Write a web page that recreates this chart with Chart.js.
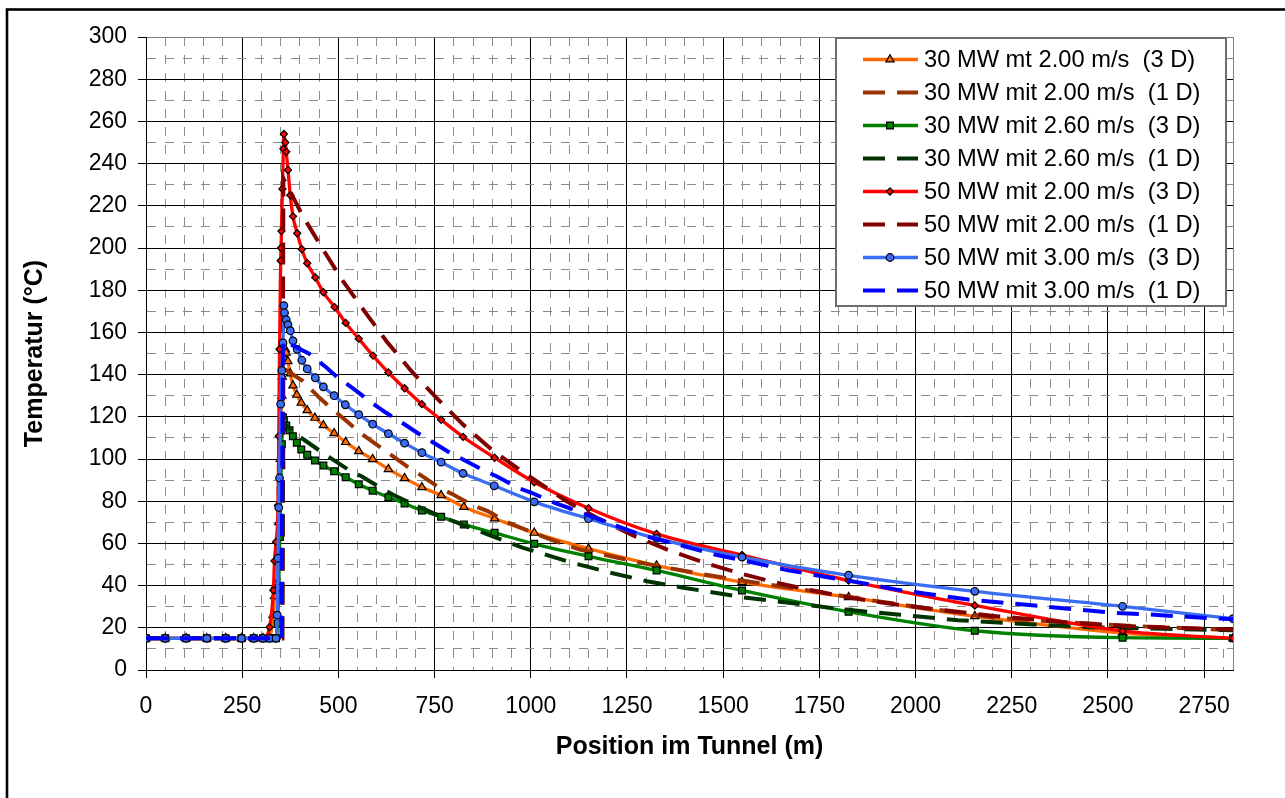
<!DOCTYPE html>
<html>
<head>
<meta charset="utf-8">
<script src="https://cdn.jsdelivr.net/npm/chart.js@4/dist/chart.umd.min.js"></script>
<style>
  html, body { margin: 0; padding: 0; background: #fff; }
  #wrap { width: 1285px; height: 798px; }
</style>
</head>
<body>
<div id="wrap"><canvas id="tunnel" width="1285" height="798"></canvas></div>
<script>
// Temperatur entlang des Tunnels, 3D-Rechnung gegen 1D-Modell

const seriesLabels = [
  "30 MW mt 2.00 m/s  (3 D)",
  "30 MW mit 2.00 m/s  (1 D)",
  "30 MW mit 2.60 m/s  (3 D)",
  "30 MW mit 2.60 m/s  (1 D)",
  "50 MW mit 2.00 m/s  (3 D)",
  "50 MW mit 2.00 m/s  (1 D)",
  "50 MW mit 3.00 m/s  (3 D)",
  "50 MW mit 3.00 m/s  (1 D)"
];

// 30 MW, 2.00 m/s, 3D
const pos30v200_3d = [0, 50, 104, 158, 207, 248, 280, 304, 321, 330, 334, 337, 343, 345, 349, 353, 354, 358, 362, 364.5, 368.7, 375, 382, 392, 403.5, 419, 439, 461, 489, 519, 553, 589, 630, 672, 717, 767, 826, 906, 1009, 1150, 1327, 1549, 1826, 2154, 2538, 2825];
const temp30v200_3d = [15, 15, 15, 15, 15, 15, 15, 15, 15, 26, 35, 40, 51, 70, 100, 130, 139, 148, 152, 150.3, 146.3, 140.5, 134.8, 130.4, 126.6, 123.1, 119.5, 116, 112.2, 108, 103.7, 99.9, 95.2, 90.9, 86.6, 82.8, 77.3, 71.8, 65, 57.5, 49.5, 41.6, 34.5, 25.5, 17.5, 15];

// 30 MW, 2.00 m/s, 1D
const pos30v200_1d = [0, 354, 357, 408, 451, 477, 525, 551, 600, 630, 681, 713, 763, 798, 848, 888, 940, 976, 1032, 1071, 1127, 1300, 1450, 1600, 1738, 1829, 1924, 2019, 2115, 2210, 2305, 2400, 2550, 2700, 2825];
const temp30v200_1d = [15, 15, 143, 136.9, 129, 124.7, 117.4, 113.2, 106.7, 102.8, 96.2, 92.5, 86.3, 83.2, 78.2, 75.3, 70, 67.3, 63.2, 60.6, 57.1, 50.3, 45.3, 41, 37.3, 34.6, 32, 29.5, 27.1, 24.7, 23.6, 22.5, 21, 19.8, 19];

// 30 MW, 2.60 m/s, 3D
const pos30v260_3d = [0, 50, 104, 158, 207, 248, 280, 304, 321, 338, 342, 345, 346.5, 348, 350, 351.5, 353, 354.5, 355.7, 358.3, 364.5, 373, 381.7, 392, 403.5, 419, 439, 461, 489, 519, 553, 589, 630, 672, 717, 767, 826, 906, 1009, 1150, 1327, 1549, 1826, 2154, 2538, 2825];
const temp30v260_3d = [15, 15, 15, 15, 15, 15, 15, 15, 15, 15, 22, 39, 54, 63, 85, 97, 107, 115, 119.8, 117.9, 115.9, 113.6, 110.8, 107.7, 104.5, 102, 99.3, 96.9, 94.2, 91.4, 88, 85, 81.9, 78.9, 75.6, 72.6, 69, 65, 59.8, 53.9, 47.2, 37.7, 27.6, 18.6, 15.3, 15];

// 30 MW, 2.60 m/s, 1D
const pos30v260_1d = [0, 354, 357, 395, 447, 477, 529, 560, 615, 646, 703, 760, 833, 889, 928, 980, 1114, 1210, 1302, 1396, 1491, 1550, 1700, 1824, 1960, 2110, 2305, 2444, 2600, 2825];
const temp30v260_1d = [15, 15, 117, 111.1, 104.5, 100.8, 94.6, 91.8, 85.8, 82.7, 77.8, 73.3, 68.1, 64.2, 61.5, 57.9, 50.5, 46, 42.1, 39, 36.3, 34.5, 31.2, 28.5, 26.2, 23.6, 21.6, 20.3, 19.7, 18.8];

// 50 MW, 2.00 m/s, 3D
const pos50v200_3d = [0, 50, 104, 158, 207, 248, 280, 304, 321, 331, 334, 338, 343, 345, 347, 350, 351, 352, 354.5, 357, 358.3, 362, 364.5, 369, 375, 382, 393, 405, 419, 440, 461, 490, 519, 553, 590, 630, 672, 717, 767, 824, 906, 1009, 1150, 1327, 1549, 1826, 2154, 2538, 2825];
const temp50v200_3d = [15, 15, 15, 15, 15, 15, 15, 15, 20.3, 37.8, 51.7, 60.7, 78, 110.8, 152, 194, 200, 208, 228, 247, 254, 250, 245.6, 237, 225, 215, 207, 199.4, 192.8, 186, 179, 172, 164.5, 157, 149, 141, 133.5, 126, 118.6, 110.5, 100.6, 89, 76.7, 64.5, 54.5, 42.4, 30.6, 18.5, 15];

// 50 MW, 2.00 m/s, 1D
const pos50v200_1d = [0, 354, 357, 408, 460, 512, 568, 625, 690, 755, 824, 898, 976, 1093, 1179, 1270, 1361, 1457, 1552, 1647, 1743, 1838, 1950, 2050, 2210, 2396, 2583, 2825];
const temp50v200_1d = [15, 15, 233, 215, 199.3, 184.3, 170, 155.8, 141.6, 129, 116.3, 104.5, 94.2, 80, 71.5, 63.4, 56.6, 50.5, 45.4, 41, 37.3, 34, 31, 28.8, 25.5, 22.5, 20.5, 19.2];

// 50 MW, 3.00 m/s, 3D
const pos50v300_3d = [0, 50, 104, 158, 207, 248, 280, 304, 321, 338, 341, 343, 345, 347, 350, 353, 356, 358.3, 360, 364.5, 369, 375, 382, 393, 405, 419, 440, 461, 489, 518, 553, 589, 630, 672, 717, 767, 824, 905, 1009, 1150, 1327, 1549, 1826, 2154, 2538, 2825];
const temp50v300_3d = [15, 15, 15, 15, 15, 15, 15, 15, 15, 15, 26, 53, 77, 91, 126, 142, 155, 172.7, 169.3, 166, 163.7, 160.8, 156, 152, 146.8, 142.7, 138.5, 134.2, 130, 125.7, 121, 116.5, 112, 107.5, 103, 98.5, 93.2, 87.3, 79.7, 71.7, 62.4, 53.5, 44.9, 37.3, 30.2, 24.3];

// 50 MW, 3.00 m/s, 1D
const pos50v300_1d = [0, 352, 356, 423, 468, 496, 545, 573, 623, 657, 707, 737, 791, 824, 878, 911, 967, 1002, 1062, 1097, 1150, 1288, 1383, 1478, 1574, 1669, 1764, 1860, 1951, 2042, 2137, 2232, 2328, 2419, 2514, 2609, 2705, 2825];
const temp50v300_1d = [15, 15, 156, 150, 143.5, 139, 132.5, 128.5, 122, 118.2, 112.2, 108.9, 102.8, 99.8, 94.6, 91.8, 86.3, 84, 79.2, 76.9, 73.3, 63.9, 59.5, 54.7, 51.1, 47.3, 44.2, 41.3, 38.1, 35.8, 33.4, 31.8, 30.2, 28.7, 27.1, 26.3, 25.2, 24];

// Achsen: Haupt- und Hilfslinien
const xTickValues = [];
for (let v = 0; v <= 2800; v += 50) xTickValues.push(v);
const yTickValues = [];
for (let v = 0; v <= 300; v += 10) yTickValues.push(v);

const allPos = [pos30v200_3d, pos30v200_1d, pos30v260_3d, pos30v260_1d, pos50v200_3d, pos50v200_1d, pos50v300_3d, pos50v300_1d];
const allTemp = [temp30v200_3d, temp30v200_1d, temp30v260_3d, temp30v260_1d, temp50v200_3d, temp50v200_1d, temp50v300_3d, temp50v300_1d];

const solid = (color, marker, radius) => ({
  borderColor: color, borderWidth: 3.3, borderDash: [],
  pointStyle: marker, pointRadius: radius, pointBackgroundColor: color,
  pointBorderColor: '#000', pointBorderWidth: 1.2,
  cubicInterpolationMode: 'monotone'
});
const dashed = color => ({
  borderColor: color, borderWidth: 4, borderDash: [22, 12],
  pointRadius: 0, tension: 0
});

const styles = [
  solid('#ff6a00', 'triangle', 4.8),
  dashed('#993300'),
  solid('#008000', 'rect', 4.8),
  dashed('#003300'),
  solid('#ff0000', 'rectRot', 3.6),
  dashed('#800000'),
  solid('#3a6cf4', 'circle', 3.8),
  dashed('#0000ff')
];

const datasets = seriesLabels.map((label, i) => Object.assign({
  label: label,
  data: allPos[i].map((x, k) => ({ x: x, y: allTemp[i][k] })),
  fill: false,
  order: 7 - i
}, styles[i]));

const decor = {
  id: 'decor',
  beforeDraw(chart) {
    const c = chart.ctx;
    c.save();
    c.fillStyle = '#fff';
    c.fillRect(0, 0, chart.width, chart.height);
    c.restore();
  },
  beforeDatasetsDraw(chart) {
    const c = chart.ctx, a = chart.chartArea;
    c.save();
    c.strokeStyle = '#808080';
    c.lineWidth = 1;
    c.beginPath();
    c.moveTo(Math.floor(a.right) + 0.5, a.top);
    c.lineTo(Math.floor(a.right) + 0.5, a.bottom);
    c.stroke();
    c.restore();
  },
  afterDraw(chart) {
    const c = chart.ctx;
    c.save();
    // outer frame
    c.strokeStyle = '#000';
    c.lineWidth = 2.6;
    c.strokeRect(7, 9.5, 1400, 1000);
    // legend
    c.fillStyle = '#fff';
    c.fillRect(836, 38, 390, 268);
    c.strokeStyle = '#6e6e6e';
    c.lineWidth = 2;
    c.strokeRect(836, 38, 390, 268);
    chart.data.datasets.forEach((ds, i) => {
      const y = 59.5 + i * 33;
      c.save();
      c.strokeStyle = ds.borderColor;
      c.lineWidth = ds.borderWidth;
      c.setLineDash(ds.borderDash || []);
      c.beginPath();
      c.moveTo(863, y);
      c.lineTo(918, y);
      c.stroke();
      c.restore();
      if (ds.pointRadius > 0) {
        c.save();
        c.fillStyle = ds.pointBackgroundColor;
        c.strokeStyle = '#000';
        c.lineWidth = 1.2;
        Chart.helpers.drawPoint(c, { pointStyle: ds.pointStyle, rotation: 0, radius: ds.pointRadius, borderWidth: 1.2 }, 890, y);
        c.restore();
      }
      c.fillStyle = '#000';
      c.font = '23.7px "Liberation Sans", Arial, sans-serif';
      c.textBaseline = 'middle';
      c.textAlign = 'left';
      c.fillText(ds.label, 924, y + 1);
    });
    c.restore();
  }
};

Chart.defaults.font.family = '"Liberation Sans", Arial, sans-serif';
Chart.defaults.color = '#000';

new Chart(document.getElementById('tunnel'), {
  type: 'line',
  data: { datasets: datasets },
  options: {
    responsive: false,
    devicePixelRatio: 1,
    animation: false,
    events: [],
    layout: { padding: { left: 0, top: 37, right: 52, bottom: 0 } },
    plugins: { legend: { display: false }, tooltip: { enabled: false } },
    scales: {
      x: {
        type: 'linear',
        min: 0,
        max: 2825,
        bounds: 'data',
        afterBuildTicks: s => { s.ticks = xTickValues.map(v => ({ value: v })); },
        afterFit: s => { s.height = 128; },
        ticks: {
          autoSkip: false, maxRotation: 0, minRotation: 0, padding: 15,
          font: { size: 23 }, color: '#000',
          callback: v => (v % 250 === 0 ? String(v) : '')
        },
        grid: {
          lineWidth: 1,
          tickLength: 8,
          color: ctx => (ctx.tick && ctx.tick.value % 250 === 0 ? '#000' : '#8c8c8c'),
          tickColor: ctx => (ctx.tick && ctx.tick.value % 250 === 0 ? '#000' : 'rgba(0,0,0,0)')
        },
        border: {
          color: '#000', width: 1,
          dash: ctx => (ctx.tick && ctx.tick.value % 250 !== 0 ? [9, 9] : [])
        },
        title: {
          display: true, text: 'Position im Tunnel (m)', color: '#000',
          font: { size: 25, weight: 'bold' },
          padding: { top: 0, bottom: 36 }
        }
      },
      y: {
        type: 'linear',
        min: 0,
        max: 300,
        bounds: 'data',
        afterBuildTicks: s => { s.ticks = yTickValues.map(v => ({ value: v })); },
        afterFit: s => { s.width = 146; },
        ticks: {
          autoSkip: false, padding: 11,
          font: { size: 23 }, color: '#000',
          callback: v => (v % 20 === 0 ? String(v) : '')
        },
        grid: {
          lineWidth: 1,
          tickLength: 8,
          color: ctx => {
            if (!ctx.tick) return '#000';
            if (ctx.tick.value === 300) return '#808080';
            return ctx.tick.value % 20 === 0 ? '#000' : '#8c8c8c';
          },
          tickColor: ctx => (ctx.tick && ctx.tick.value % 20 === 0 ? '#000' : 'rgba(0,0,0,0)')
        },
        border: {
          color: '#000', width: 1,
          dash: ctx => (ctx.tick && ctx.tick.value % 20 !== 0 ? [9, 9] : [])
        },
        title: {
          display: true, text: 'Temperatur (°C)', color: '#000',
          font: { size: 25, weight: 'bold' },
          padding: { top: 20, bottom: 0 }
        }
      }
    }
  },
  plugins: [decor]
});
</script>
</body>
</html>
